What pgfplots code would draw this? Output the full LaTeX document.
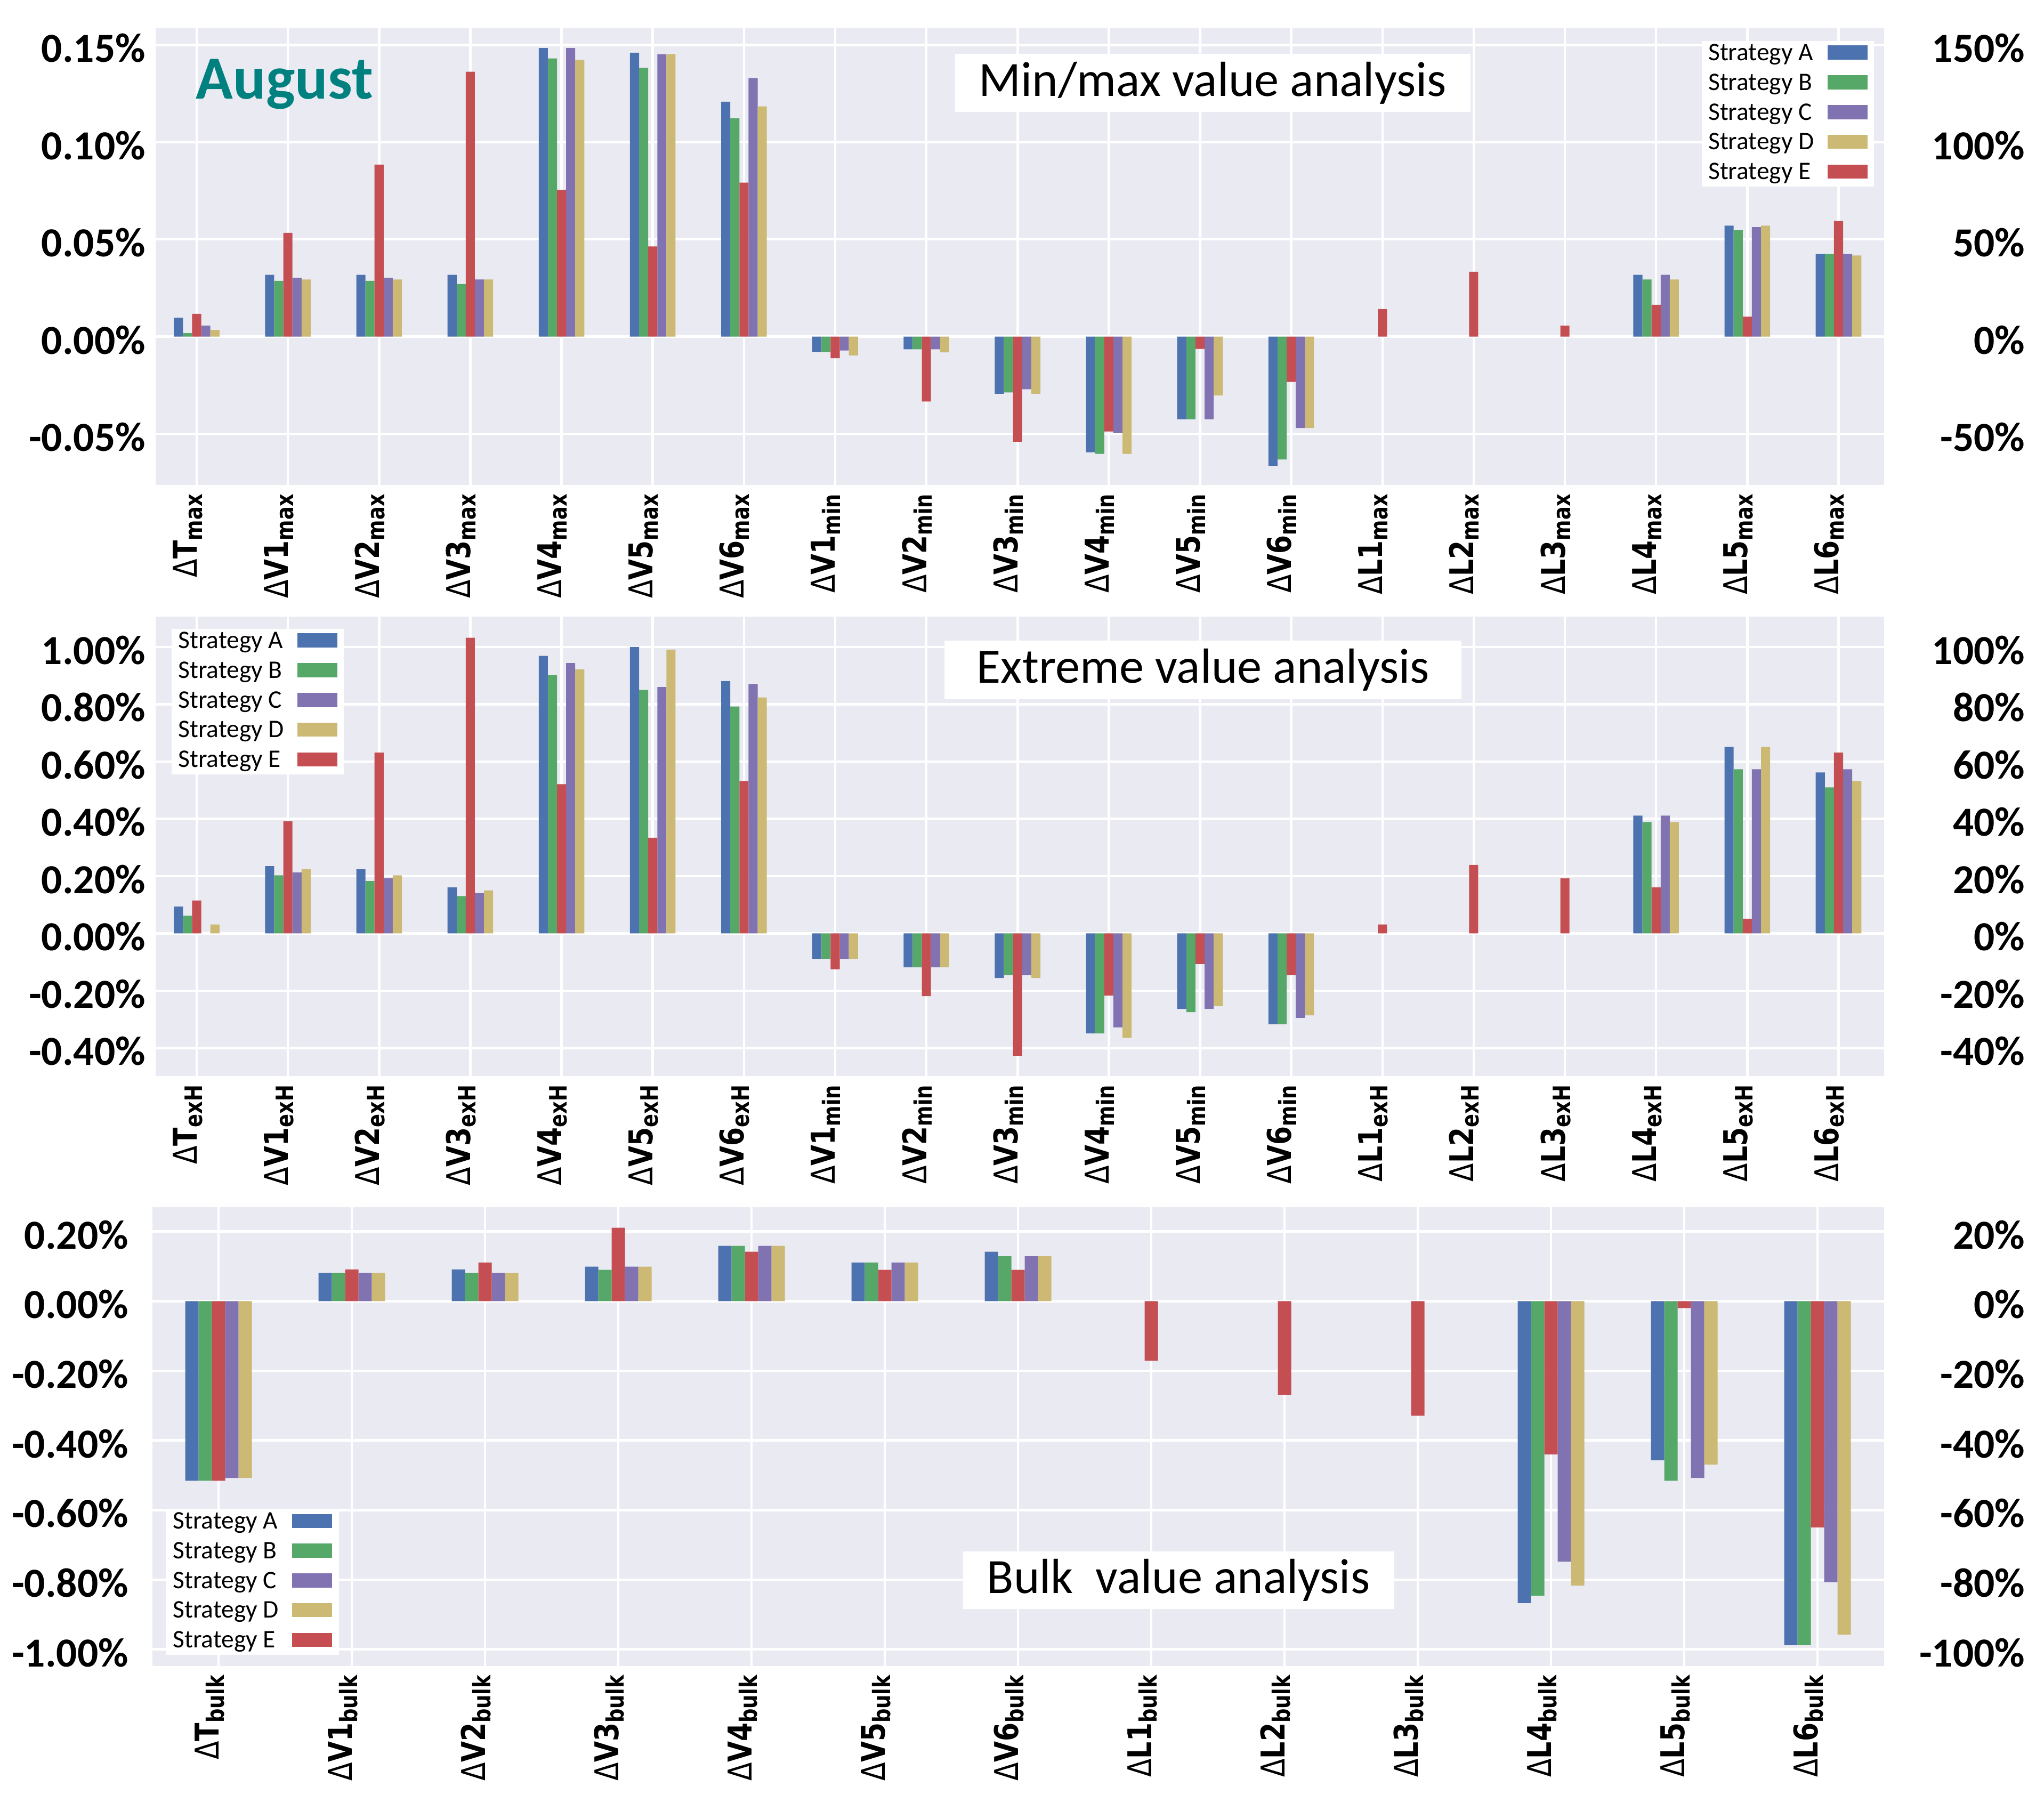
\documentclass[border=0pt]{standalone}
\usepackage{fontspec}
\setmainfont{Carlito}
\newfontfamily\lblfont{DejaVu Sans}
\usepackage{graphicx}
\usepackage{pgfplots}
\pgfplotsset{compat=1.18}
\definecolor{cA}{HTML}{4C72B0}
\definecolor{cB}{HTML}{55A868}
\definecolor{cC}{HTML}{8172B2}
\definecolor{cD}{HTML}{CCB974}
\definecolor{cE}{HTML}{C44E52}
\definecolor{bg}{HTML}{EAEAF2}
\definecolor{teal2}{HTML}{00807F}
\newcommand{\xl}[2]{\scalebox{0.82}[1]{{\lblfont\fontsize{12.3}{13}\selectfont Δ\bfseries #1}\raisebox{-2pt}{\lblfont\bfseries\fontsize{9}{10}\selectfont #2}}}
\newcommand{\tickfont}{\fontsize{15.5}{16}\selectfont\bfseries}
\pgfplotsset{
  panel/.style={
    scale only axis, width=648.6pt,
    axis background/.style={fill=bg},
    axis line style={draw=none},
    major tick length=0pt,
    grid=major, major grid style={white, line width=0.9pt},
    yticklabel style={font=\tickfont, anchor=east, inner sep=0pt, xshift=-3.6pt, yshift=-1.2pt},
    xticklabel style={rotate=90, anchor=base east, inner sep=0pt, outer sep=3.4pt},
    legend plot pos=right,
    legend style={draw=none, fill=white, inner xsep=2.5pt, inner ysep=0.5pt,
      font=\fontsize{9.5}{9.5}\selectfont,
      nodes={inner sep=0pt, text height=6.8pt, text depth=2.2pt},
      /tikz/column sep=5pt, /tikz/row sep=2.16pt, cells={anchor=west}},
  },
  rpanel/.style={
    scale only axis, width=648.6pt,
    axis y line*=right, axis line style={draw=none}, hide x axis,
    major tick length=0pt, xmin=0, xmax=1,
    yticklabel style={font=\tickfont, anchor=east, inner sep=0pt, xshift=53pt, yshift=-1.2pt},
  },
  mybar/.style={ybar, bar width=0.1, draw=none,
    legend image code/.code={\fill[##1] (0pt,-2pt) rectangle (15pt,3.3pt);}},
}
\begin{document}
\begin{tikzpicture}
\useasboundingbox (0,0) rectangle (767pt,676.4pt);
% ---------------- top panel ----------------
\begin{axis}[panel, at={(58.4pt,494.4pt)}, anchor=south west, height=171.6pt,
  xmin=-0.45, xmax=18.5, ymin=-0.0763, ymax=0.1589,
  ytick={-0.05,0,0.05,0.1,0.15},
  yticklabels={-0.05\%,0.00\%,0.05\%,0.10\%,0.15\%},
  xtick={0,...,18},
  xticklabels={\xl{T}{max},\xl{V1}{max},\xl{V2}{max},\xl{V3}{max},\xl{V4}{max},\xl{V5}{max},\xl{V6}{max},\xl{V1}{min},\xl{V2}{min},\xl{V3}{min},\xl{V4}{min},\xl{V5}{min},\xl{V6}{min},\xl{L1}{max},\xl{L2}{max},\xl{L3}{max},\xl{L4}{max},\xl{L5}{max},\xl{L6}{max}},
  legend style={at={(0.9945,0.972)}, anchor=north east}]
\addplot[mybar, bar shift=-0.2, fill=cA] coordinates {(0,0.0097)(1,0.0318)(2,0.0318)(3,0.0318)(4,0.1484)(5,0.146)(6,0.1208)(7,-0.0079)(8,-0.0065)(9,-0.0294)(10,-0.0595)(11,-0.0425)(12,-0.0664)(16,0.0318)(17,0.0571)(18,0.0425)};
\addplot[mybar, bar shift=-0.1, fill=cB] coordinates {(0,0.0018)(1,0.0287)(2,0.0287)(3,0.0271)(4,0.1431)(5,0.1383)(6,0.1123)(7,-0.0079)(8,-0.0065)(9,-0.0287)(10,-0.0603)(11,-0.0425)(12,-0.0632)(16,0.0294)(17,0.0547)(18,0.0425)};
\addplot[mybar, bar shift=0.1, fill=cC] coordinates {(0,0.0057)(1,0.0302)(2,0.0302)(3,0.0294)(4,0.1484)(5,0.1453)(6,0.133)(7,-0.0071)(8,-0.0065)(9,-0.0271)(10,-0.0494)(11,-0.0425)(12,-0.047)(16,0.0318)(17,0.0563)(18,0.0425)};
\addplot[mybar, bar shift=0.2, fill=cD] coordinates {(0,0.0034)(1,0.0294)(2,0.0294)(3,0.0294)(4,0.1423)(5,0.1453)(6,0.1184)(7,-0.0097)(8,-0.0081)(9,-0.0294)(10,-0.0603)(11,-0.0302)(12,-0.047)(16,0.0294)(17,0.0571)(18,0.0417)};
\addplot[mybar, bar shift=0, fill=cE] coordinates {(0,0.0117)(1,0.0534)(2,0.0885)(3,0.1362)(4,0.0755)(5,0.0464)(6,0.0792)(7,-0.0111)(8,-0.0334)(9,-0.0541)(10,-0.0488)(11,-0.0063)(12,-0.0233)(13,0.0142)(14,0.0334)(15,0.0057)(16,0.0164)(17,0.0103)(18,0.0595)};
\legend{Strategy A,Strategy B,Strategy C,Strategy D,Strategy E}
\node[fill=white, minimum width=193.4pt, minimum height=21.8pt, inner sep=0pt, font=\fontsize{18.5}{19}\selectfont] at (rel axis cs:0.6115,0.879) {Min/max value analysis};
\node[anchor=base west, inner sep=0pt, text=teal2, font=\fontsize{23}{24}\selectfont\bfseries] at (rel axis cs:0.0231,0.844) {August};
\end{axis}
\begin{axis}[rpanel, at={(58.4pt,494.4pt)}, anchor=south west, height=171.6pt,
  ymin=-76.3, ymax=158.9, ytick={-50,0,50,100,150},
  yticklabels={-50\%,0\%,50\%,100\%,150\%}]
\end{axis}
% ---------------- middle panel ----------------
\begin{axis}[panel, at={(58.4pt,272.6pt)}, anchor=south west, height=172.4pt,
  xmin=-0.45, xmax=18.5, ymin=-0.498, ymax=1.106,
  ytick={-0.4,-0.2,0,0.2,0.4,0.6,0.8,1.0},
  yticklabels={-0.40\%,-0.20\%,0.00\%,0.20\%,0.40\%,0.60\%,0.80\%,1.00\%},
  xtick={0,...,18},
  xticklabels={\xl{T}{exH},\xl{V1}{exH},\xl{V2}{exH},\xl{V3}{exH},\xl{V4}{exH},\xl{V5}{exH},\xl{V6}{exH},\xl{V1}{min},\xl{V2}{min},\xl{V3}{min},\xl{V4}{min},\xl{V5}{min},\xl{V6}{min},\xl{L1}{exH},\xl{L2}{exH},\xl{L3}{exH},\xl{L4}{exH},\xl{L5}{exH},\xl{L6}{exH}},
  legend style={at={(0.0089,0.9745)}, anchor=north west}]
\addplot[mybar, bar shift=-0.2, fill=cA] coordinates {(0,0.094)(1,0.235)(2,0.224)(3,0.161)(4,0.969)(5,1.0)(6,0.881)(7,-0.089)(8,-0.118)(9,-0.156)(10,-0.349)(11,-0.264)(12,-0.317)(16,0.411)(17,0.651)(18,0.562)};
\addplot[mybar, bar shift=-0.1, fill=cB] coordinates {(0,0.062)(1,0.203)(2,0.183)(3,0.130)(4,0.902)(5,0.850)(6,0.792)(7,-0.089)(8,-0.118)(9,-0.145)(10,-0.349)(11,-0.275)(12,-0.317)(16,0.389)(17,0.573)(18,0.510)};
\addplot[mybar, bar shift=0.1, fill=cC] coordinates {(1,0.213)(2,0.193)(3,0.141)(4,0.944)(5,0.860)(6,0.871)(7,-0.089)(8,-0.118)(9,-0.145)(10,-0.328)(11,-0.264)(12,-0.295)(16,0.411)(17,0.573)(18,0.573)};
\addplot[mybar, bar shift=0.2, fill=cD] coordinates {(0,0.031)(1,0.224)(2,0.203)(3,0.150)(4,0.922)(5,0.991)(6,0.824)(7,-0.089)(8,-0.118)(9,-0.156)(10,-0.364)(11,-0.254)(12,-0.286)(16,0.389)(17,0.651)(18,0.532)};
\addplot[mybar, bar shift=0, fill=cE] coordinates {(0,0.115)(1,0.391)(2,0.631)(3,1.032)(4,0.521)(5,0.334)(6,0.532)(7,-0.125)(8,-0.219)(9,-0.427)(10,-0.217)(11,-0.107)(12,-0.145)(13,0.031)(14,0.239)(15,0.192)(16,0.161)(17,0.051)(18,0.631)};
\legend{Strategy A,Strategy B,Strategy C,Strategy D,Strategy E}
\node[fill=white, minimum width=194pt, minimum height=22pt, inner sep=0pt, font=\fontsize{18.5}{19}\selectfont] at (rel axis cs:0.606,0.884) {Extreme value analysis};
\end{axis}
\begin{axis}[rpanel, at={(58.4pt,272.6pt)}, anchor=south west, height=172.4pt,
  ymin=-49.8, ymax=110.6, ytick={-40,-20,0,20,40,60,80,100},
  yticklabels={-40\%,-20\%,0\%,20\%,40\%,60\%,80\%,100\%}]
\end{axis}
% ---------------- bottom panel ----------------
\begin{axis}[panel, at={(57.2pt,51.2pt)}, anchor=south west, width=649.8pt, height=172.2pt,
  yticklabel style={xshift=-5.2pt},
  xmin=-0.496, xmax=12.5, ymin=-1.048, ymax=0.270,
  ytick={-1.0,-0.8,-0.6,-0.4,-0.2,0,0.2},
  yticklabels={-1.00\%,-0.80\%,-0.60\%,-0.40\%,-0.20\%,0.00\%,0.20\%},
  xtick={0,...,12},
  xticklabels={\xl{T}{bulk},\xl{V1}{bulk},\xl{V2}{bulk},\xl{V3}{bulk},\xl{V4}{bulk},\xl{V5}{bulk},\xl{V6}{bulk},\xl{L1}{bulk},\xl{L2}{bulk},\xl{L3}{bulk},\xl{L4}{bulk},\xl{L5}{bulk},\xl{L6}{bulk}},
  legend style={at={(0.0077,0.3426)}, anchor=north west}]
\addplot[mybar, bar shift=-0.2, fill=cA] coordinates {(0,-0.516)(1,0.081)(2,0.091)(3,0.099)(4,0.159)(5,0.111)(6,0.142)(10,-0.867)(11,-0.457)(12,-0.988)};
\addplot[mybar, bar shift=-0.1, fill=cB] coordinates {(0,-0.516)(1,0.081)(2,0.081)(3,0.090)(4,0.159)(5,0.111)(6,0.129)(10,-0.846)(11,-0.516)(12,-0.988)};
\addplot[mybar, bar shift=0.1, fill=cC] coordinates {(0,-0.508)(1,0.081)(2,0.081)(3,0.099)(4,0.159)(5,0.111)(6,0.129)(10,-0.748)(11,-0.508)(12,-0.807)};
\addplot[mybar, bar shift=0.2, fill=cD] coordinates {(0,-0.508)(1,0.081)(2,0.081)(3,0.099)(4,0.159)(5,0.111)(6,0.129)(10,-0.817)(11,-0.469)(12,-0.958)};
\addplot[mybar, bar shift=0, fill=cE] coordinates {(0,-0.516)(1,0.091)(2,0.111)(3,0.211)(4,0.142)(5,0.090)(6,0.090)(7,-0.171)(8,-0.269)(9,-0.329)(10,-0.440)(11,-0.020)(12,-0.650)};
\legend{Strategy A,Strategy B,Strategy C,Strategy D,Strategy E}
\node[fill=white, minimum width=161.8pt, minimum height=21.6pt, inner sep=0pt, font=\fontsize{18.5}{19}\selectfont] at (rel axis cs:0.5925,0.187) {Bulk\ \ value analysis};
\end{axis}
\begin{axis}[rpanel, at={(57.2pt,51.2pt)}, anchor=south west, width=649.8pt, height=172.2pt,
  ymin=-104.8, ymax=27.0, ytick={-100,-80,-60,-40,-20,0,20},
  yticklabels={-100\%,-80\%,-60\%,-40\%,-20\%,0\%,20\%}]
\end{axis}
\end{tikzpicture}
\end{document}
